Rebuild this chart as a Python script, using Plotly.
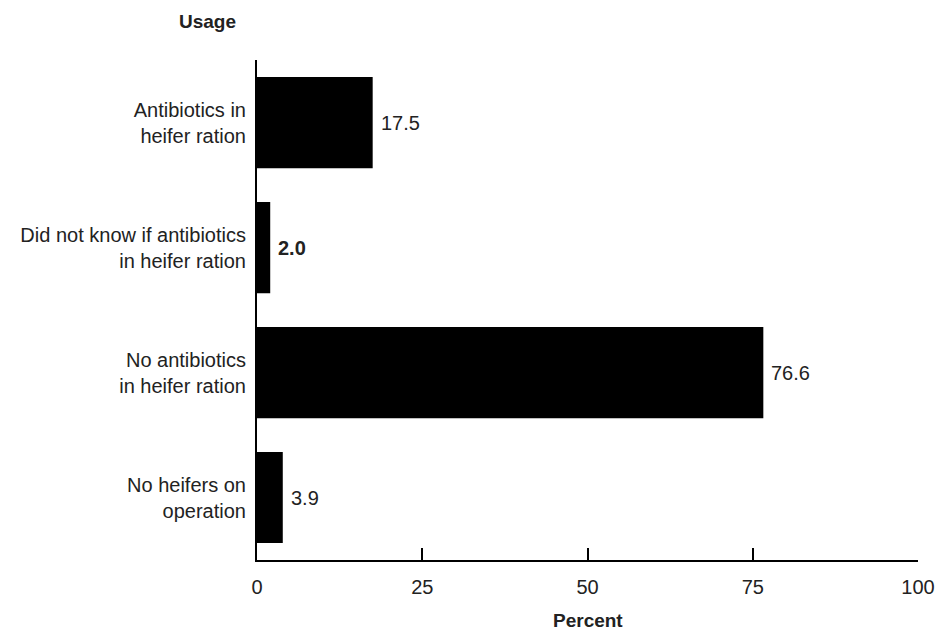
import plotly.graph_objects as go

categories = ["Antibiotics in<br>heifer ration",
              "Did not know if antibiotics<br>in heifer ration",
              "No antibiotics<br>in heifer ration",
              "No heifers on<br>operation"]
values = [17.5, 2.0, 76.6, 3.9]
value_labels = ["17.5", "<b>2.0</b>", "76.6", "3.9"]
x_ticks = [0, 25, 50, 75, 100]

FONT = "Liberation Sans, Arial, sans-serif"
TXT = "#222222"

fig = go.Figure(go.Bar(
    x=values, y=categories, orientation="h",
    marker=dict(color="black", line=dict(width=0)),
    width=0.73,
    hoverinfo="skip",
))

for v, c, t in zip(values, categories, value_labels):
    fig.add_annotation(x=v, y=c, text=t, showarrow=False, xanchor="left",
                       yanchor="middle", xshift=6,
                       font=dict(family=FONT, size=20, color=TXT))

fig.add_annotation(xref="paper", yref="paper", x=-0.075, y=1.076, text="<b>Usage</b>",
                   showarrow=False, xanchor="center", yanchor="middle",
                   font=dict(family=FONT, size=19, color=TXT))
fig.add_annotation(xref="paper", yref="paper", x=0.5, y=-0.12, text="<b>Percent</b>",
                   showarrow=False, xanchor="center", yanchor="middle",
                   font=dict(family=FONT, size=19, color=TXT))

fig.update_layout(
    width=939, height=622,
    margin=dict(l=247, r=27, t=52, b=70),
    paper_bgcolor="white", plot_bgcolor="white",
    showlegend=False,
    font=dict(family=FONT, size=20, color=TXT),
    xaxis=dict(range=[0, 100], tickvals=x_ticks, ticktext=[str(t) for t in x_ticks],
               showgrid=False, zeroline=False, showline=True, linecolor="black",
               linewidth=2, ticks="inside", ticklen=12, tickwidth=2, tickcolor="black",
               ticklabelstandoff=8,
               tickfont=dict(family=FONT, size=20, color=TXT)),
    yaxis=dict(type="category", categoryorder="array", categoryarray=categories,
               range=[3.5, -0.5], showgrid=False, zeroline=False, showline=True,
               linecolor="black", linewidth=2, ticks="", ticklabelstandoff=5,
               tickfont=dict(family=FONT, size=20, color=TXT)),
)

fig.write_html("out.html")
